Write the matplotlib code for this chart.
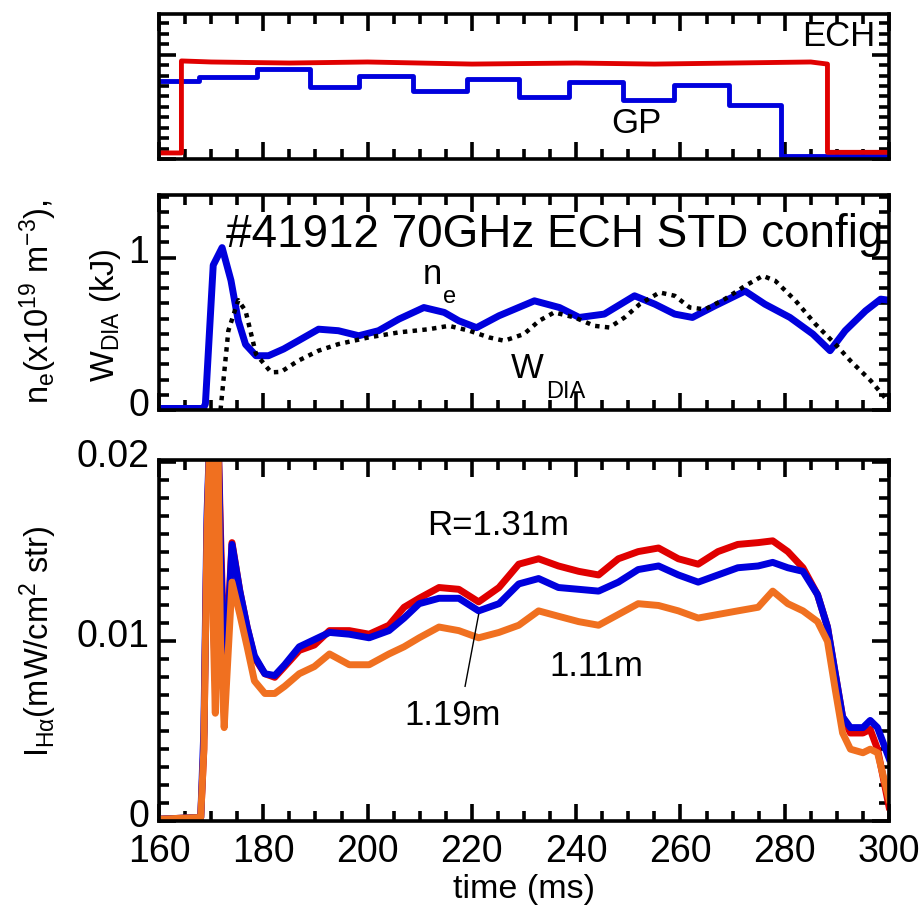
import matplotlib
matplotlib.use('Agg')
from matplotlib import pyplot as plt
from matplotlib.ticker import MultipleLocator, FuncFormatter
from matplotlib.transforms import ScaledTranslation

plt.rcParams['font.family'] = ['Liberation Sans', 'DejaVu Sans']
plt.rcParams['mathtext.fontset'] = 'custom'
plt.rcParams['mathtext.rm'] = 'Liberation Sans'
plt.rcParams['mathtext.it'] = 'Liberation Sans:italic'
plt.rcParams['mathtext.default'] = 'regular'

# --- top panel: ECH power and gas puff (arb. units)
ech_t = [160, 164.3, 164.3, 170, 185, 200, 220, 240, 255, 270, 285, 288.2, 288.2, 300]
ech_v = [0.058, 0.058, 0.94, 0.93, 0.92, 0.93, 0.91, 0.92, 0.91, 0.92, 0.93, 0.91, 0.064, 0.064]

gp_t = [160, 167.6, 178.8, 188.9, 198.4, 208.7, 219.0, 229.0, 238.7, 248.9, 258.8, 269.3, 279.2, 300]
gp_v = [0.744, 0.786, 0.866, 0.69, 0.80, 0.649, 0.77, 0.594, 0.738, 0.569, 0.706, 0.52, 0.032, 0.032]

# --- middle panel: line density and diamagnetic energy
ne_t = [160, 168.5, 168.9, 170.4, 172.1, 173.8, 175.2, 176.6, 178.6, 181.0, 183.9, 186.7,
        190.6, 194.4, 198.3, 202.1, 206.0, 210.8, 214.7, 217.5, 220.9, 225.2, 232.0,
        236.8, 240.6, 245.4, 251.2, 255.1, 258.9, 262.3, 266.6, 272.4, 276.2, 281.0,
        285.4, 288.7, 291.6, 295.5, 298.4, 300]
ne_v = [0.01, 0.01, 0.04, 0.95, 1.065, 0.85, 0.585, 0.43, 0.356, 0.356, 0.40, 0.454,
        0.53, 0.52, 0.487, 0.52, 0.596, 0.672, 0.64, 0.585, 0.54, 0.618, 0.716,
        0.672, 0.607, 0.629, 0.749, 0.694, 0.629, 0.607, 0.683, 0.78, 0.694, 0.607,
        0.498, 0.389, 0.52, 0.65, 0.727, 0.72]

w_t = [171.8, 173.3, 175.2, 176.6, 178.6, 181.5, 183.4, 186.7, 190.6, 194.4, 200.2,
       206.0, 211.8, 215.6, 219.5, 223.3, 226.2, 230.0, 232.9, 235.8, 239.7, 243.5,
       246.4, 249.3, 252.2, 256.0, 258.9, 261.8, 264.7, 268.5, 272.4, 275.8, 278.2,
       282.1, 285.9, 289.7, 292.6, 296.5, 300]
w_v = [0.0, 0.52, 0.72, 0.65, 0.367, 0.247, 0.25, 0.323, 0.389, 0.432, 0.476,
       0.509, 0.53, 0.552, 0.52, 0.476, 0.454, 0.498, 0.585, 0.64, 0.607, 0.552,
       0.541, 0.607, 0.694, 0.771, 0.749, 0.672, 0.66, 0.727, 0.814, 0.88, 0.847,
       0.716, 0.563, 0.432, 0.323, 0.192, 0.05]

# --- bottom panel: H-alpha intensity at three major radii
ha_t = [160, 168.0, 168.6, 169.2, 169.8, 170.3, 170.8, 171.3, 171.8, 172.5, 173.2, 174.0,
        175.5, 176.9, 178.3, 180.3, 182.2, 184.1, 186.9, 189.8, 192.7, 196.5, 200.3,
        204.1, 207.0, 209.9, 213.7, 217.5, 221.3, 225.2, 229.0, 232.8, 236.6, 240.5,
        244.3, 248.1, 251.9, 255.8, 259.6, 263.4, 267.2, 271.0, 274.9, 277.7, 280.6,
        283.5, 286.3, 288.2, 289.7, 291.1, 292.6, 295.0, 296.4, 297.8, 300]
ha_131 = [0.0001, 0.0002, 0.004, 0.016, 0.022, 0.014, 0.008, 0.022, 0.016, 0.009, 0.011, 0.0155,
          0.0128, 0.0108, 0.0091, 0.0082, 0.008, 0.0086, 0.0095, 0.0098, 0.0106, 0.0106, 0.0104,
          0.0109, 0.0119, 0.0124, 0.013, 0.0129, 0.0122, 0.013, 0.0143, 0.0146, 0.0142, 0.0139,
          0.0137, 0.0146, 0.015, 0.0152, 0.0146, 0.0143, 0.015, 0.0154, 0.0155, 0.0156, 0.015,
          0.0141, 0.0126, 0.0108, 0.0082, 0.0058, 0.0049, 0.0049, 0.0051, 0.004, 0.0008]
ha_119 = [0.0001, 0.0002, 0.005, 0.017, 0.022, 0.013, 0.0078, 0.022, 0.015, 0.0085, 0.0105, 0.0154,
          0.0128, 0.0108, 0.0092, 0.0082, 0.0081, 0.0087, 0.0097, 0.0101, 0.0105, 0.0104, 0.0102,
          0.0106, 0.0113, 0.0121, 0.0124, 0.0124, 0.0117, 0.0121, 0.0132, 0.0135, 0.013, 0.0129,
          0.0128, 0.0133, 0.014, 0.0142, 0.0137, 0.0133, 0.0137, 0.0141, 0.0142, 0.0144, 0.0141,
          0.0139, 0.0126, 0.0108, 0.0082, 0.0058, 0.0052, 0.0052, 0.0056, 0.0052, 0.0035]
ha_111 = [0.0001, 0.0002, 0.004, 0.016, 0.022, 0.012, 0.006, 0.021, 0.010, 0.0052, 0.009, 0.0133,
          0.0115, 0.0097, 0.0078, 0.0071, 0.0071, 0.0075, 0.0082, 0.0086, 0.0093, 0.0087, 0.0087,
          0.0093, 0.0097, 0.0102, 0.0108, 0.0106, 0.0102, 0.0105, 0.0109, 0.0117, 0.0114, 0.0111,
          0.0109, 0.0115, 0.0121, 0.012, 0.0117, 0.0113, 0.0115, 0.0117, 0.0119, 0.0128, 0.0121,
          0.0117, 0.0111, 0.010, 0.0073, 0.0049, 0.004, 0.0038, 0.004, 0.0038, 0.0012]

TICK_FS = 27
TXT_FS = 25
L, R = 159 / 922, 889 / 922
W = R - L


def frac(top_px, bot_px):
    return [L, 1 - bot_px / 905, W, (bot_px - top_px) / 905]


def style(ax):
    for s in ax.spines.values():
        s.set_linewidth(2.6)
    ax.tick_params(which='both', direction='in', top=True, right=True,
                   width=2.6, labelsize=TICK_FS, pad=7)
    ax.tick_params(axis='x', pad=9)
    ax.tick_params(which='major', length=12)
    ax.tick_params(which='minor', length=7)
    ax.xaxis.set_major_locator(MultipleLocator(20))
    ax.xaxis.set_minor_locator(MultipleLocator(5))
    ax.set_xlim(160, 300)


def raise_ylabels(ax):
    # the original y tick labels sit a few pixels above their ticks
    off = ScaledTranslation(0, 6 / 72, fig.dpi_scale_trans)
    for lab in ax.get_yticklabels():
        lab.set_transform(lab.get_transform() + off)


fig = plt.figure(figsize=(9.22, 9.05), dpi=100)

# top
ax1 = fig.add_axes(frac(14, 159))
style(ax1)
ax1.plot(gp_t, gp_v, color='#0000dd', lw=3.5, drawstyle='steps-post')
ax1.plot(ech_t, ech_v, color='#e00000', lw=3.5)
ax1.set_ylim(0, 1.39)
ax1.yaxis.set_major_locator(MultipleLocator(1))
ax1.yaxis.set_minor_locator(MultipleLocator(0.1))
ax1.tick_params(labelbottom=False, labelleft=False)
ax1.text(297.3, 1.17, 'ECH', fontsize=TXT_FS, ha='right', va='center')
ax1.text(251.5, 0.34, 'GP', fontsize=TXT_FS, ha='center', va='center')

# middle
ax2 = fig.add_axes(frac(195, 410))
style(ax2)
ax2.plot(ne_t, ne_v, color='#0000dd', lw=5)
ax2.plot(w_t, w_v, color='black', lw=3.2, linestyle=(0, (1, 1.2)))
ax2.set_ylim(0, 1.41)
ax2.yaxis.set_major_locator(MultipleLocator(1))
ax2.yaxis.set_minor_locator(MultipleLocator(0.1))
ax2.yaxis.set_major_formatter(FuncFormatter(lambda v, p: '%g' % v))
ax2.tick_params(labelbottom=False)
ax2.text(299, 1.15, '#41912 70GHz ECH STD config', fontsize=33, ha='right', va='center')
ax2.text(212.5, 0.89, 'n', fontsize=TXT_FS, ha='center', va='center')
ax2.text(215.8, 0.74, 'e', fontsize=17, ha='center', va='center')
ax2.text(230.7, 0.27, 'W', fontsize=TXT_FS, ha='center', va='center')
ax2.text(238, 0.12, 'DIA', fontsize=17, ha='center', va='center')

# bottom
ax3 = fig.add_axes(frac(460, 821))
style(ax3)
ax3.plot(ha_t, ha_131, color='#e00000', lw=5)
ax3.plot(ha_t, ha_119, color='#0000dd', lw=5)
ax3.plot(ha_t, ha_111, color='#f07020', lw=5)
ax3.set_ylim(0, 0.0201)
ax3.yaxis.set_major_locator(MultipleLocator(0.01))
ax3.yaxis.set_minor_locator(MultipleLocator(0.001))
ax3.yaxis.set_major_formatter(FuncFormatter(lambda v, p: '%g' % round(v, 4)))
ax3.xaxis.set_major_formatter(FuncFormatter(lambda v, p: '%d' % v))
ax3.text(225.0, 0.01645, 'R=1.31m', fontsize=TXT_FS, ha='center', va='center')
ax3.text(243.8, 0.0086, '1.11m', fontsize=TXT_FS, ha='center', va='center')
ax3.text(216.3, 0.0059, '1.19m', fontsize=TXT_FS, ha='center', va='center')
ax3.plot([221.3, 218.7], [0.0115, 0.0075], color='black', lw=1)
ax3.set_xlabel('time (ms)', fontsize=24.5, labelpad=3)

for a in (ax2, ax3):
    raise_ylabels(a)

# y labels
fig.text(38 / 922, 1 - 302 / 905, 'n$_e$(x10$^{19}$ m$^{-3}$),', rotation=90,
         fontsize=23.5, ha='center', va='center')
fig.text(105 / 922, 1 - 315 / 905, 'W$_{DIA}$ (kJ)', rotation=90,
         fontsize=23.5, ha='center', va='center')
fig.text(38 / 922, 1 - 641 / 905, 'I$_{H\u03b1}$(mW/cm$^2$ str)', rotation=90,
         fontsize=23.5, ha='center', va='center')

fig.savefig('out.png', dpi=100)
